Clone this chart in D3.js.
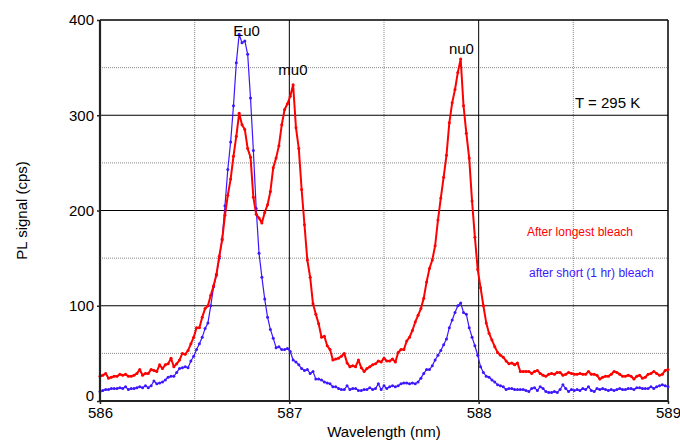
<!DOCTYPE html>
<html>
<head>
<meta charset="utf-8">
<script src="https://cdn.jsdelivr.net/npm/d3@7"></script>
<style>
  body { margin: 0; background: #fff; }
  text { font-family: "Liberation Sans", Arial, Helvetica, sans-serif; }
</style>
</head>
<body>
<svg id="chart" width="680" height="443"></svg>
<script>
// Spectrometer sampling grid (nm)
const lambdaStart = 586;
const lambdaStep = 0.015;
const wavelength = d3.range(201).map(i => +(lambdaStart + i * lambdaStep).toFixed(3));

// PL signal (cps) after the longest bleach
const longBleach = [
  26,27,29,24,25,26,26,28,27,28,
  26,26,27,29,33,27,29,29,33,32,
  31,38,34,38,39,45,36,39,43,50,
  49,53,60,67,77,77,88,97,100,111,
  121,133,152,169,195,216,233,257,278,302,
  290,285,265,256,214,196,192,187,198,206,
  220,245,255,268,290,306,312,320,332,287,
  265,222,185,148,130,102,91,81,67,68,
  58,54,43,44,45,47,50,40,36,37,
  36,43,35,31,34,36,38,39,42,41,
  45,42,42,44,41,51,54,54,63,67,
  74,83,90,97,108,125,139,148,163,190,
  213,235,258,292,313,327,345,359,310,281,
  255,210,172,138,119,100,82,71,64,57,
  51,48,46,42,39,40,38,40,31,31,
  31,31,29,31,32,29,27,26,28,29,
  28,30,30,27,28,30,29,28,28,29,
  28,28,31,28,28,27,23,25,26,26,
  28,31,30,28,26,26,27,26,23,26,
  27,24,25,28,29,31,29,27,28,32,
  33
];

// PL signal (cps) after a short (1 hr) bleach
const shortBleach = [
  10,11,12,12,13,13,13,14,13,15,
  12,13,13,14,15,14,16,14,16,21,
  18,19,20,22,25,26,26,30,34,35,
  36,35,42,47,54,60,67,76,82,100,
  120,132,150,170,205,243,272,310,355,385,
  376,378,364,318,263,202,155,130,107,88,
  75,66,56,57,54,54,55,52,43,41,
  38,34,32,33,29,31,23,23,22,20,
  19,18,15,15,13,12,12,16,12,13,
  13,11,11,12,12,14,12,13,18,12,
  16,13,15,16,15,16,18,19,19,18,
  19,18,20,24,29,33,33,37,43,48,
  53,59,65,77,85,93,100,103,93,91,
  77,67,58,48,36,30,26,25,22,20,
  17,16,15,12,13,13,12,12,12,12,
  11,10,13,14,11,15,13,10,9,9,
  10,9,12,17,13,10,12,11,12,11,
  13,12,15,11,10,13,12,13,12,11,
  12,11,12,13,12,12,13,13,12,14,
  14,13,13,13,15,13,15,16,17,16,
  15
];

const xTicks = [586, 587, 588, 589];
const xMinor = [586.5, 587.5, 588.5];
const yTicks = [0, 100, 200, 300, 400];
const yMinor = [50, 150, 250, 350];

const peakNames = ["Eu0", "mu0", "nu0"];
const peakLambda = [586.774, 587.019, 587.909];
const peakLabelY = [383, 342, 364];

const seriesNames = ["After longest bleach", "after short (1 hr) bleach"];

const W = 680, H = 443;
const margin = { left: 100, right: 12, top: 20, bottom: 42 };

const svg = d3.select("#chart");
const x = d3.scaleLinear().domain([586, 589]).range([margin.left, W - margin.right]);
const y = d3.scaleLinear().domain([0, 400]).range([H - margin.bottom, margin.top]);

const RED = "#ff0000";
const BLUE = "#3b17ff";

// grid: dotted minor lines, solid major lines
const grid = svg.append("g");
grid.selectAll(".vmin").data(xMinor).join("line")
  .attr("x1", d => x(d)).attr("x2", d => x(d))
  .attr("y1", y(0)).attr("y2", y(400))
  .attr("stroke", "#888").attr("stroke-width", 1).attr("stroke-dasharray", "1,1");
grid.selectAll(".hmin").data(yMinor).join("line")
  .attr("x1", x(586)).attr("x2", x(589))
  .attr("y1", d => y(d)).attr("y2", d => y(d))
  .attr("stroke", "#888").attr("stroke-width", 1).attr("stroke-dasharray", "1,1");
grid.selectAll(".vmaj").data([587, 588]).join("line")
  .attr("x1", d => x(d)).attr("x2", d => x(d))
  .attr("y1", y(0)).attr("y2", y(400))
  .attr("stroke", "#000").attr("stroke-width", 1);
grid.selectAll(".hmaj").data([100, 200, 300]).join("line")
  .attr("x1", x(586)).attr("x2", x(589))
  .attr("y1", d => y(d)).attr("y2", d => y(d))
  .attr("stroke", "#000").attr("stroke-width", 1);

// frame
svg.append("line").attr("x1", x(586)).attr("x2", x(589)).attr("y1", y(400)).attr("y2", y(400))
  .attr("stroke", "#000").attr("stroke-width", 1.5);
svg.append("line").attr("x1", x(589)).attr("x2", x(589)).attr("y1", y(0)).attr("y2", y(400))
  .attr("stroke", "#000").attr("stroke-width", 1.5);

// series
function drawSeries(values, color, width) {
  const pts = wavelength.map((w, i) => [w, values[i]]);
  const line = d3.line().x(d => x(d[0])).y(d => y(d[1]));
  const g = svg.append("g");
  g.append("path").datum(pts).attr("d", line)
    .attr("fill", "none").attr("stroke", color).attr("stroke-width", width)
    .attr("stroke-linejoin", "round");
  g.selectAll("circle").data(pts).join("circle")
    .attr("cx", d => x(d[0])).attr("cy", d => y(d[1])).attr("r", 1.5)
    .attr("fill", color);
}
drawSeries(shortBleach, BLUE, 1.2);
drawSeries(longBleach, RED, 2);

// axes
const yAxis = svg.append("g").attr("transform", `translate(${x(586)},0)`)
  .call(d3.axisLeft(y).tickValues(yTicks).tickSize(3).tickPadding(3));
const xAxis = svg.append("g").attr("transform", `translate(0,${y(0)})`)
  .call(d3.axisBottom(x).tickValues(xTicks).tickFormat(d3.format("d")).tickSize(3).tickPadding(3));
[yAxis, xAxis].forEach(a => {
  a.select(".domain").attr("stroke", "#222").attr("stroke-width", 2.2);
  a.selectAll(".tick line").attr("stroke", "#222").attr("stroke-width", 1.5);
  a.selectAll(".tick text").attr("font-size", 15).attr("fill", "#000")
    .style("font-family", "'Liberation Sans', Arial, sans-serif");
});
xAxis.select(".domain").attr("d", `M${x(586)},0H${x(589)}`);
yAxis.select(".domain").attr("d", `M0,${y(0)}V${y(400)}`);
// lift the zero label so it clears the first wavelength label
yAxis.selectAll(".tick").filter(d => d === 0).select("text").attr("y", -5);

// axis titles
svg.append("text").attr("x", (x(586) + x(589)) / 2).attr("y", 437)
  .attr("text-anchor", "middle").attr("font-size", 15).text("Wavelength (nm)");
svg.append("text").attr("transform", `translate(27,${(y(0) + y(400)) / 2}) rotate(-90)`)
  .attr("text-anchor", "middle").attr("font-size", 15).text("PL signal (cps)");

// peak names
svg.selectAll(".peak").data(peakNames).join("text")
  .attr("x", (d, i) => x(peakLambda[i])).attr("y", (d, i) => y(peakLabelY[i]))
  .attr("text-anchor", "middle").attr("font-size", 15).attr("fill", "#000")
  .text(d => d);

// annotations
svg.append("text").attr("x", x(588.509)).attr("y", y(307.6))
  .attr("font-size", 15).attr("fill", "#000").text("T = 295 K");
svg.append("text").attr("x", x(588.255)).attr("y", y(173))
  .attr("font-size", 12).attr("fill", RED).text(seriesNames[0]);
svg.append("text").attr("x", x(588.266)).attr("y", y(130))
  .attr("font-size", 12).attr("fill", BLUE).text(seriesNames[1]);
</script>
</body>
</html>
